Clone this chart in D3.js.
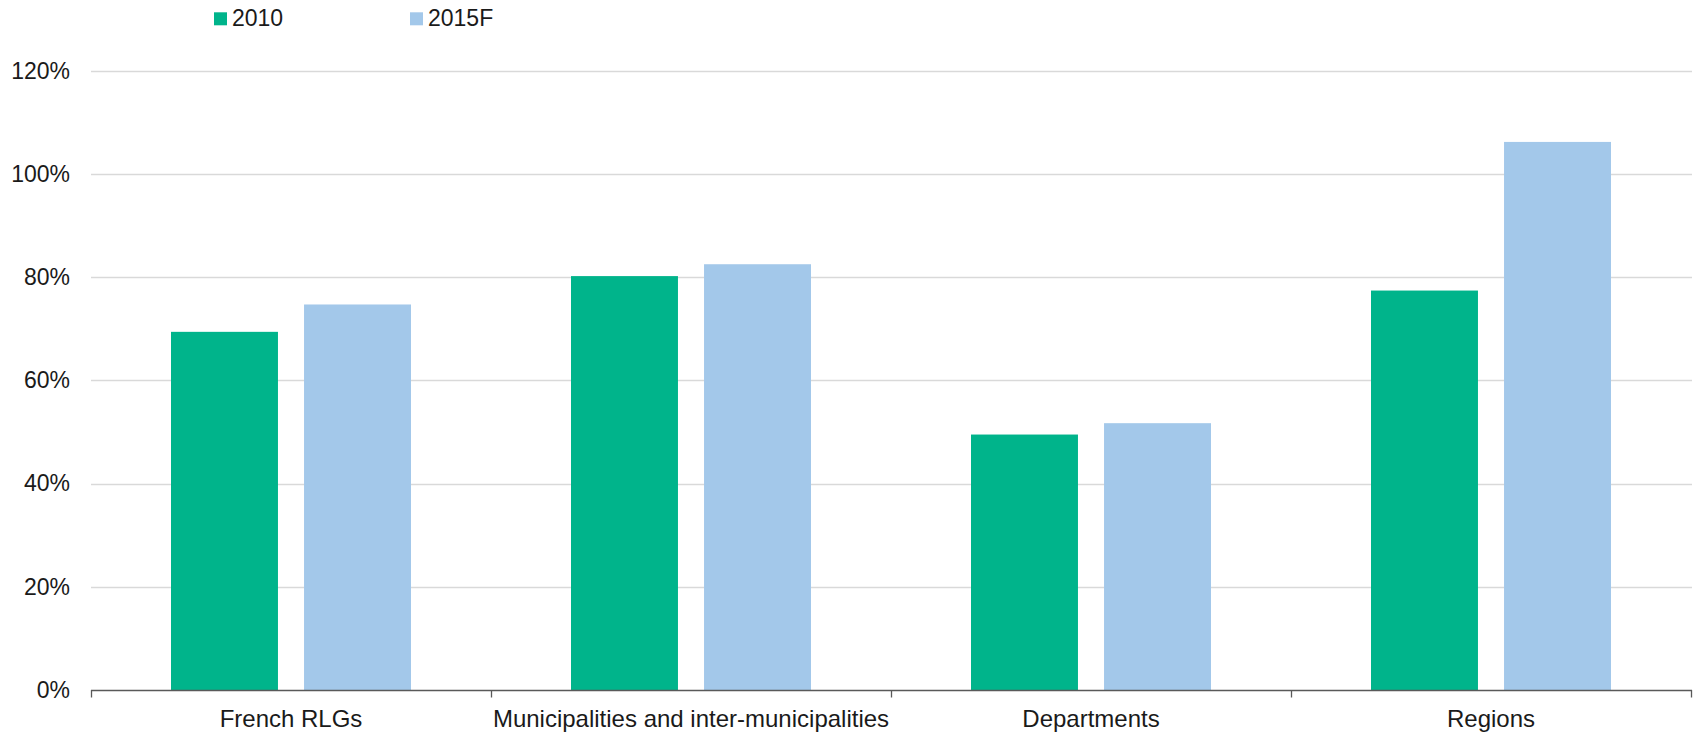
<!DOCTYPE html>
<html>
<head>
<meta charset="utf-8">
<script src="https://cdn.jsdelivr.net/npm/d3@7"></script>
<style>
  html, body { margin: 0; padding: 0; background: #ffffff; }
  svg { display: block; }
  text { font-family: "Liberation Sans", Arial, sans-serif; fill: #1a1a1a; }
</style>
</head>
<body>
<svg id="chart" width="1696" height="732"></svg>
<script>
const categories = ["French RLGs", "Municipalities and inter-municipalities", "Departments", "Regions"];
const seriesNames = ["2010", "2015F"];
const values2010 = [69.4, 80.2, 49.5, 77.4];
const values2015F = [74.7, 82.5, 51.7, 106.2];
const yTicks = [0, 20, 40, 60, 80, 100, 120];
const colors = ["#00B48B", "#A3C8EA"];

const svg = d3.select("#chart");

const x = d3.scaleBand().domain(categories).range([91, 1691]).paddingInner(0).paddingOuter(0);
const x1 = d3.scaleBand().domain(seriesNames).range([80, 320]).paddingInner(0.196).paddingOuter(0);
const y = d3.scaleLinear().domain([0, 120]).range([690, 70.7]);

// gridlines
svg.append("g")
  .selectAll("line")
  .data(yTicks.filter(d => d > 0))
  .join("line")
  .attr("x1", 91).attr("x2", 1692)
  .attr("y1", d => Math.round(y(d)) + 0.5).attr("y2", d => Math.round(y(d)) + 0.5)
  .attr("stroke", "#d9d9d9").attr("stroke-width", 1.3);

// y axis labels
const yAxis = d3.axisLeft(y).tickValues(yTicks).tickFormat(d => d + "%").tickSize(0).tickPadding(21);
const yg = svg.append("g").attr("transform", "translate(91,0)").call(yAxis);
yg.select(".domain").remove();
yg.selectAll("text").attr("font-size", 23).attr("fill", "#1a1a1a")
  .style("font-family", '"Liberation Sans", Arial, sans-serif');

// bars
const data = categories.map((c, i) => ({ cat: c, vals: [values2010[i], values2015F[i]] }));
const groups = svg.append("g").selectAll("g")
  .data(data).join("g")
  .attr("transform", d => `translate(${x(d.cat)},0)`);
groups.selectAll("rect")
  .data(d => d.vals.map((v, j) => ({ key: seriesNames[j], v, j })))
  .join("rect")
  .attr("x", d => x1(d.key))
  .attr("width", x1.bandwidth())
  .attr("y", d => y(d.v))
  .attr("height", d => y(0) - y(d.v))
  .attr("fill", d => colors[d.j]);

// x axis
const xg = svg.append("g").attr("transform", "translate(0,690)");
xg.append("line").attr("x1", 91).attr("x2", 1692).attr("y1", 0.5).attr("y2", 0.5)
  .attr("stroke", "#595959").attr("stroke-width", 1.3);
const tickPos = categories.map(c => x(c)).concat([x.range()[1]]);
xg.selectAll("line.tick").data(tickPos).join("line").attr("class", "tick")
  .attr("x1", d => d + 0.5).attr("x2", d => d + 0.5).attr("y1", 0).attr("y2", 7.5)
  .attr("stroke", "#595959").attr("stroke-width", 1.3);
xg.selectAll("text.cat").data(categories).join("text").attr("class", "cat")
  .attr("x", d => x(d) + x.bandwidth() / 2)
  .attr("y", 36.5)
  .attr("text-anchor", "middle")
  .attr("font-size", 24)
  .text(d => d);

// legend
const legendX = [214, 410];
const lg = svg.append("g").selectAll("g").data(seriesNames).join("g")
  .attr("transform", (d, i) => `translate(${legendX[i]},0)`);
lg.append("rect").attr("x", 0).attr("y", 12.3).attr("width", 13).attr("height", 13)
  .attr("fill", (d, i) => colors[i]);
lg.append("text").attr("x", 18).attr("y", 26).attr("font-size", 23).text(d => d);
</script>
</body>
</html>
